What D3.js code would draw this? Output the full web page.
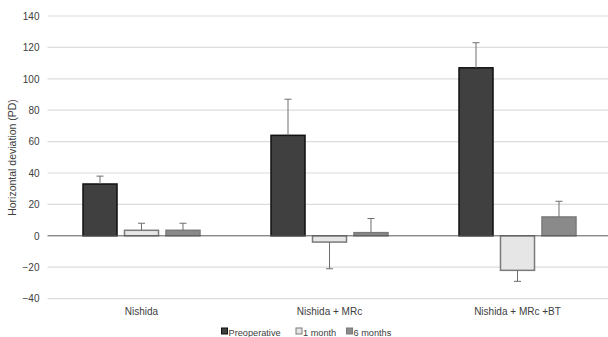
<!DOCTYPE html>
<html>
<head>
<meta charset="utf-8">
<script src="https://cdn.jsdelivr.net/npm/d3@7"></script>
<style>
  body { margin: 0; background: #fff; }
  #chart { width: 608px; height: 337px; }
  text { font-family: "Liberation Sans", Arial, sans-serif; fill: #404040; }
</style>
</head>
<body>
<div id="chart"></div>
<script>
//Datos
const categories = ['Nishida', 'Nishida + MRc', 'Nishida + MRc +BT'];
const series = ['Preoperative', '1 month', '6 months'];
const preopValues = [33, 64, 107];
const preopErrors = [38, 87, 123];
const month1Values = [3.5, -4, -22];
const month1Errors = [8, -21, -29];
const month6Values = [3.5, 2, 12];
const month6Errors = [8, 11, 22];
const yTicks = [-40, -20, 0, 20, 40, 60, 80, 100, 120, 140];

//Colores
const FILL = { 'Preoperative': '#404040', '1 month': '#e6e6e6', '6 months': '#8a8a8a' };
const STROKE = { 'Preoperative': '#111111', '1 month': '#7a7a7a', '6 months': '#7a7a7a' };

let data = categories.map(function(c, i) {
    return {
        cat: c,
        bars: [
            { key: 'Preoperative', value: preopValues[i], err: preopErrors[i] },
            { key: '1 month', value: month1Values[i], err: month1Errors[i] },
            { key: '6 months', value: month6Values[i], err: month6Errors[i] }
        ]
    };
});

let width = 608, height = 337;
let margin = { left: 47.5, right: 611.5, top: 16, bottom: 298.6 };

let svg = d3.select('#chart')
    .append('svg')
        .attr('width', width)
        .attr('height', height);

let y = d3.scaleLinear()
    .domain([-40, 140])
    .range([margin.bottom, margin.top]);

let x = d3.scaleBand()
    .domain(categories)
    .range([margin.left, margin.right])
    .padding(0);

let xSub = d3.scaleBand()
    .domain(series)
    .range([(x.bandwidth() - 117) / 2, (x.bandwidth() + 117) / 2])
    .paddingInner(0.18)
    .paddingOuter(0);

//Rejilla
svg.append('g')
    .selectAll('line')
    .data(yTicks.filter(function(t) { return t !== 0; }))
    .enter()
    .append('line')
    .attr('x1', margin.left)
    .attr('x2', width)
    .attr('y1', function(d) { return y(d); })
    .attr('y2', function(d) { return y(d); })
    .attr('stroke', '#dcdcdc')
    .attr('stroke-width', 1.2);

//Eje Y
let yAxis = svg.append('g')
    .attr('transform', 'translate(' + margin.left + ',0)')
    .call(d3.axisLeft(y).tickValues(yTicks).tickSize(0).tickPadding(8));
yAxis.select('.domain').remove();
yAxis.selectAll('text')
    .style('font-size', '10px')
    .style('fill', '#404040')
    .style('font-family', '"Liberation Sans", Arial, sans-serif');

//Barras
let groups = svg.append('g')
    .selectAll('g')
    .data(data)
    .enter()
    .append('g')
    .attr('transform', function(d) { return 'translate(' + x(d.cat) + ',0)'; });

groups.selectAll('rect')
    .data(function(d) { return d.bars; })
    .enter()
    .append('rect')
    .attr('x', function(d) { return xSub(d.key); })
    .attr('width', xSub.bandwidth())
    .attr('y', function(d) { return y(Math.max(0, d.value)); })
    .attr('height', function(d) { return Math.abs(y(d.value) - y(0)); })
    .attr('fill', function(d) { return FILL[d.key]; })
    .attr('stroke', function(d) { return STROKE[d.key]; })
    .attr('stroke-width', 1.5);

//Línea del cero
svg.append('line')
    .attr('x1', margin.left)
    .attr('x2', width)
    .attr('y1', y(0))
    .attr('y2', y(0))
    .attr('stroke', '#595959')
    .attr('stroke-width', 1);

//Barras de error
let errs = groups.selectAll('g.err')
    .data(function(d) { return d.bars; })
    .enter()
    .append('g')
    .attr('class', 'err')
    .attr('transform', function(d) { return 'translate(' + (xSub(d.key) + xSub.bandwidth() / 2) + ',0)'; });

errs.append('line')
    .attr('x1', 0).attr('x2', 0)
    .attr('y1', function(d) { return y(d.value); })
    .attr('y2', function(d) { return y(d.err); })
    .attr('stroke', '#6e6e6e')
    .attr('stroke-width', 1);

errs.append('line')
    .attr('x1', -3.5).attr('x2', 3.5)
    .attr('y1', function(d) { return y(d.err); })
    .attr('y2', function(d) { return y(d.err); })
    .attr('stroke', '#6e6e6e')
    .attr('stroke-width', 1);

//Etiquetas de categorías
svg.append('g')
    .selectAll('text')
    .data(categories)
    .enter()
    .append('text')
    .attr('x', function(d) { return x(d) + x.bandwidth() / 2; })
    .attr('y', 314.5)
    .attr('text-anchor', 'middle')
    .style('font-size', '10px')
    .text(function(d) { return d; });

//Título eje Y
svg.append('text')
    .attr('transform', 'translate(15.5,157.5) rotate(-90)')
    .attr('text-anchor', 'middle')
    .style('font-size', '10.5px')
    .text('Horizontal deviation (PD)');

//Leyenda
const legendX = [221, 295.5, 346];
let legend = svg.append('g')
    .selectAll('g')
    .data(series)
    .enter()
    .append('g')
    .attr('transform', function(d, i) { return 'translate(' + legendX[i] + ',328)'; });

legend.append('rect')
    .attr('x', 0.5)
    .attr('y', 0)
    .attr('width', 6)
    .attr('height', 6)
    .attr('fill', function(d) { return FILL[d]; })
    .attr('stroke', function(d) { return STROKE[d]; })
    .attr('stroke-width', 1);

legend.append('text')
    .attr('x', 7.5)
    .attr('y', 7.5)
    .style('font-size', '9.2px')
    .text(function(d) { return d; });
</script>
</body>
</html>
